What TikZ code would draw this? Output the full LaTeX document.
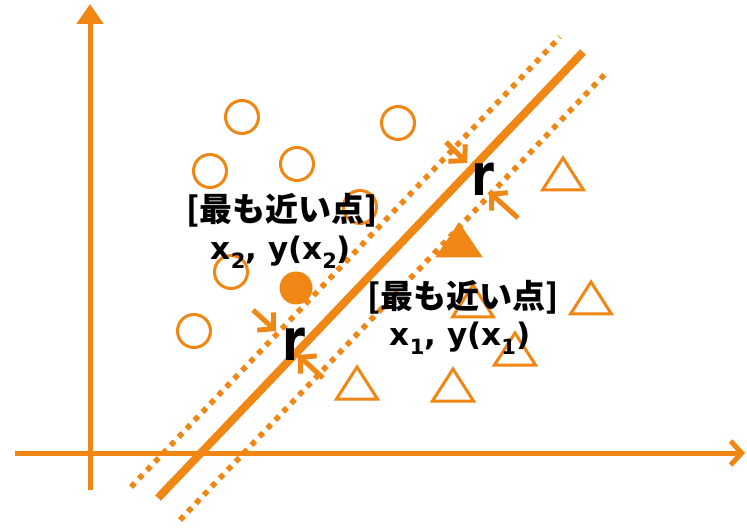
\documentclass[tikz,border=0pt]{standalone}
\usepackage{fontspec}
\newfontfamily\jpfont{Noto Sans CJK JP}
\newfontfamily\latfont{DejaVu Sans}
\usetikzlibrary{arrows.meta}
\definecolor{org}{RGB}{240,134,20}
\newcommand{\mysub}[1]{\raisebox{-0.3em}{\fontsize{21}{21}\selectfont #1}}
\begin{document}
\begin{tikzpicture}[x=1pt,y=-1pt,
  axis/.style={draw=org,line width=5pt},
  sepline/.style={draw=org,line width=8pt},
  margin/.style={draw=org,line width=5.5pt,dash pattern=on 5.5pt off 6pt},
  opencirc/.style={draw=org,line width=3pt,fill=white},
  opentri/.style={draw=org,line width=3pt,fill=white,line join=miter},
  filltri/.style={draw=org,line width=3pt,fill=org,line join=miter},
  rarrow/.style={draw=org,line width=5pt,-{Straight Barb[length=11pt,width=24pt,line width=5pt]}},
  jplbl/.style={font=\jpfont\bfseries\fontsize{33}{37}\selectfont,text=black,inner sep=0pt},
  latlbl/.style={font=\latfont\bfseries\fontsize{31}{35}\selectfont,text=black,inner sep=0pt},
  rlbl/.style={font=\latfont\bfseries\fontsize{58}{62}\selectfont,text=black,inner sep=0pt}]
\useasboundingbox (0,0) rectangle (747,529);
% axes
\coordinate (vbot) at (90,490);
\coordinate (vtop) at (90,4);
\coordinate (hl) at (15,453);
\coordinate (hr) at (745,453);
\draw[axis,-{Triangle[length=20pt,width=26pt]}] (vbot) -- (vtop);
\draw[axis,-{Straight Barb[length=11pt,width=24pt,line width=5pt]}] (hl) -- (hr);
% separating line and margins
\coordinate (m1) at (158,498);
\coordinate (m2) at (583,52);
\coordinate (u1) at (131,487);
\coordinate (u2) at (560,37);
\coordinate (d1) at (180,520);
\coordinate (d2) at (607,72);
\draw[sepline] (m1) -- (m2);
\draw[margin] (u1) -- (u2);
\draw[margin] (d1) -- (d2);
% circles
\foreach \p in {(242,117),(398,123),(210,171),(297,164),(360,207),(231,272),(194,331)}
  \draw[opencirc] \p circle[radius=16.5];
\fill[org] (296,288) circle[radius=16.5];
% triangles
\foreach \x/\y in {563/158,473/285,591/282,515/333,357/367,453/369}
  \draw[opentri] (\x,\y) -- ++(20.5,32) -- ++(-41,0) -- cycle;
\draw[filltri] (459,225) -- ++(21,31) -- ++(-42,0) -- cycle;
% margin arrows
\coordinate (a1s) at (446,142);
\coordinate (a1e) at (467,163);
\coordinate (a2s) at (518,218);
\coordinate (a2e) at (489,192);
\coordinate (a3s) at (253,310);
\coordinate (a3e) at (276,331);
\coordinate (a4s) at (323,378);
\coordinate (a4e) at (298,355);
\draw[rarrow] (a1s) -- (a1e);
\draw[rarrow] (a2s) -- (a2e);
\draw[rarrow] (a3s) -- (a3e);
\draw[rarrow] (a4s) -- (a4e);
% labels
\node[jplbl] (n2a) at (282,210) {[最も近い点]};
\node[latlbl] (n2b) at (281,252) {x\mysub{2}, y(x\mysub{2})};
\node[jplbl] (n1a) at (463,297) {[最も近い点]};
\node[latlbl] (n1b) at (460,338) {x\mysub{1}, y(x\mysub{1})};
\node[rlbl] (r1) at (483,179) {\scalebox{0.8}[1]{r}};
\node[rlbl] (r2) at (294,344) {\scalebox{0.8}[1]{r}};
\end{tikzpicture}
\end{document}
